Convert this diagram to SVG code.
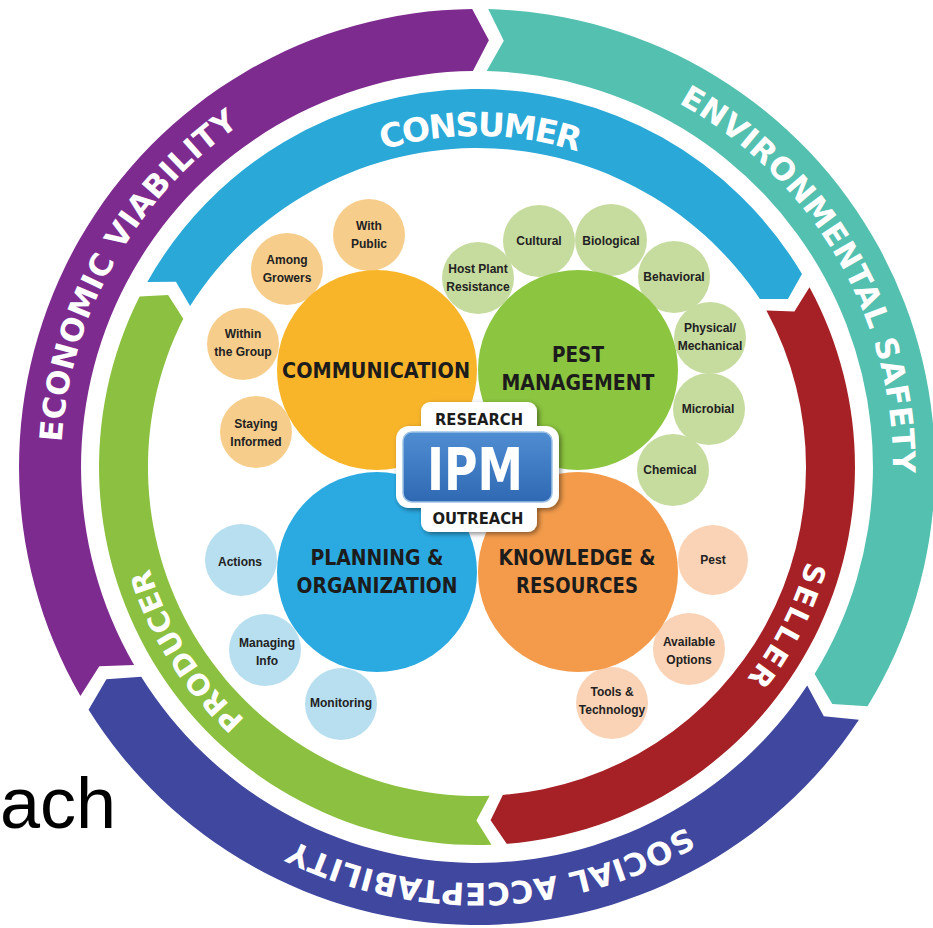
<svg xmlns="http://www.w3.org/2000/svg" width="933" height="928" viewBox="0 0 933 928">
<defs>
<style>
.ring{font-family:"DejaVu Sans","Liberation Sans",sans-serif;font-weight:bold;fill:#fff;text-anchor:middle}
.big{font-family:"DejaVu Sans","Liberation Sans",sans-serif;font-weight:bold;font-size:22px;fill:#1c1c1c;text-anchor:middle}
.sm{font-family:"Liberation Sans","DejaVu Sans",sans-serif;font-weight:bold;font-size:12px;fill:#222;text-anchor:middle}
.tab{font-family:"DejaVu Sans","Liberation Sans",sans-serif;font-weight:bold;font-size:16px;fill:#1c1c1c;text-anchor:middle}
.c1{fill:#F6CD8B}.c2{fill:#C6DB9E}.c3{fill:#B8DFF0}.c4{fill:#FAD3B6}
</style>
<filter id="sh" x="-20%" y="-20%" width="140%" height="140%">
<feDropShadow dx="2" dy="2" stdDeviation="2.5" flood-color="#000" flood-opacity="0.45"/>
</filter>
<linearGradient id="bg" x1="0" y1="0" x2="0" y2="1">
<stop offset="0" stop-color="#4F8DD2"/><stop offset="1" stop-color="#2F69B3"/>
</linearGradient>
<path id="p-econ" d="M119.3,679.4 A416,416 0 0 1 471.9,51.0"/>
<path id="p-env" d="M476.3,51.0 A416,416 0 0 1 837.6,674.4"/>
<path id="p-soc" d="M844.3,662.3 A416,416 0 0 1 124.2,687.4"/>
<path id="p-cons" d="M192.1,298.5 A331,331 0 0 1 765.4,304.5"/>
<path id="p-sell" d="M764.7,280.2 A343,343 0 0 1 495.0,809.5"/>
<path id="p-prod" d="M490.8,809.7 A343,343 0 0 1 173.3,307.6"/>
</defs>
<rect width="933" height="928" fill="#fff"/>

<g id="economic-viability">
<path fill="#7E2B8F" d="M80.4,696 A458,458 0 0 1 472.2,9.0 L488.9,40.2 L472.9,71.0 A396,396 0 0 0 134.1,665 L99.3,666.2 Z"/>
<text class="ring" font-size="31"><textPath href="#p-econ" startOffset="50%" textLength="376">ECONOMIC VIABILITY</textPath></text>
</g>
<g id="environmental-safety">
<path fill="#54C0B0" d="M488.2,9.1 A458,458 0 0 1 867.5,706.3 L832.3,703.9 L814.6,673.9 A396,396 0 0 0 486.7,71.1 L503.8,40.8 Z"/>
<text class="ring" font-size="31"><textPath href="#p-env" startOffset="50%" textLength="449">ENVIRONMENTAL SAFETY</textPath></text>
</g>
<g id="social-acceptability">
<path fill="#3F479F" d="M858.9,719.8 A458,458 0 0 1 88.6,709.7 L106.4,679.2 L141.2,676.8 A396,396 0 0 0 807.2,685.6 L823.8,716.2 Z"/>
<text class="ring" font-size="31"><textPath href="#p-soc" startOffset="50%" textLength="409">SOCIAL ACCEPTABILITY</textPath></text>
</g>

<g id="consumer">
<path fill="#2AA8D8" d="M147.3,282.0 A378,378 0 0 1 802.0,274.0 L787.9,298.9 L759.9,299.0 A340,340 0 0 0 190.1,306.0 L175.9,281.8 Z"/>
<text class="ring" font-size="33"><textPath href="#p-cons" startOffset="50%" textLength="198">CONSUMER</textPath></text>
</g>
<g id="seller">
<path fill="#A62125" d="M809.5,287.2 A378,378 0 0 1 506.7,843.8 L490.6,820.2 L502.8,795.0 A329,329 0 0 0 766.4,310.5 L794.4,311.5 Z"/>
<text class="ring" font-size="29"><textPath href="#p-sell" startOffset="50%" textLength="133">SELLER</textPath></text>
</g>
<g id="producer">
<path fill="#8CC040" d="M491.5,844.7 A378,378 0 0 1 139.6,296.6 L168.1,295.1 L183.3,318.7 A329,329 0 0 0 489.6,795.8 L476.4,820.5 Z"/>
<text class="ring" font-size="29"><textPath href="#p-prod" startOffset="50%" textLength="181">PRODUCER</textPath></text>
</g>

<g id="with-public"><circle class="c1" cx="369" cy="235" r="36"/><text class="sm" x="369" y="230">With</text><text class="sm" x="369" y="248">Public</text></g>
<g id="among-growers"><circle class="c1" cx="287" cy="269" r="36"/><text class="sm" x="287" y="264">Among</text><text class="sm" x="287" y="282">Growers</text></g>
<g id="within-group"><circle class="c1" cx="243" cy="344" r="36"/><text class="sm" x="243" y="338">Within</text><text class="sm" x="243" y="356">the Group</text></g>
<g id="staying-informed"><circle class="c1" cx="256" cy="432" r="36"/><text class="sm" x="256" y="428">Staying</text><text class="sm" x="256" y="446">Informed</text></g>

<g id="host-plant"><circle class="c2" cx="478" cy="278" r="36"/><text class="sm" x="478" y="273">Host Plant</text><text class="sm" x="478" y="291">Resistance</text></g>
<g id="cultural"><circle class="c2" cx="539" cy="241" r="36"/><text class="sm" x="539" y="245">Cultural</text></g>
<g id="biological"><circle class="c2" cx="611" cy="240" r="36"/><text class="sm" x="611" y="245">Biological</text></g>
<g id="behavioral"><circle class="c2" cx="674" cy="277" r="36"/><text class="sm" x="674" y="281">Behavioral</text></g>
<g id="physical"><circle class="c2" cx="710" cy="338" r="36"/><text class="sm" x="710" y="332">Physical/</text><text class="sm" x="710" y="350">Mechanical</text></g>
<g id="microbial"><circle class="c2" cx="709" cy="409" r="36"/><text class="sm" x="708" y="413">Microbial</text></g>
<g id="chemical"><circle class="c2" cx="673" cy="470" r="36"/><text class="sm" x="670" y="474">Chemical</text></g>

<g id="actions"><circle class="c3" cx="241" cy="560" r="36"/><text class="sm" x="240" y="566">Actions</text></g>
<g id="managing-info"><circle class="c3" cx="265" cy="650" r="36"/><text class="sm" x="267" y="647">Managing</text><text class="sm" x="267" y="665">Info</text></g>
<g id="monitoring"><circle class="c3" cx="341" cy="704" r="36"/><text class="sm" x="341" y="707">Monitoring</text></g>

<g id="pest"><circle class="c4" cx="713" cy="560" r="35"/><text class="sm" x="713" y="564">Pest</text></g>
<g id="available-options"><circle class="c4" cx="689" cy="649" r="36"/><text class="sm" x="689" y="646">Available</text><text class="sm" x="689" y="664">Options</text></g>
<g id="tools-technology"><circle class="c4" cx="612" cy="703" r="36"/><text class="sm" x="612" y="696">Tools &amp;</text><text class="sm" x="612" y="714">Technology</text></g>

<g id="communication"><circle cx="377" cy="370" r="100" fill="#F8B52A"/><text class="big" x="376" y="378" textLength="188" lengthAdjust="spacingAndGlyphs">COMMUNICATION</text></g>
<g id="pest-management"><circle cx="578" cy="370" r="100" fill="#8CC540"/><text class="big" x="578" y="362" textLength="52" lengthAdjust="spacingAndGlyphs">PEST</text><text class="big" x="578" y="390" textLength="153" lengthAdjust="spacingAndGlyphs">MANAGEMENT</text></g>
<g id="planning"><circle cx="377" cy="572" r="100" fill="#2BAAE2"/><text class="big" x="377" y="565" textLength="133" lengthAdjust="spacingAndGlyphs">PLANNING &amp;</text><text class="big" x="377" y="593" textLength="161" lengthAdjust="spacingAndGlyphs">ORGANIZATION</text></g>
<g id="knowledge"><circle cx="578" cy="572" r="100" fill="#F39B4B"/><text class="big" x="577" y="565" textLength="157" lengthAdjust="spacingAndGlyphs">KNOWLEDGE &amp;</text><text class="big" x="577" y="593" textLength="122" lengthAdjust="spacingAndGlyphs">RESOURCES</text></g>

<g id="ipm">
<g filter="url(#sh)" fill="#fff">
<rect x="421" y="402" width="116" height="36" rx="9"/>
<rect x="421" y="496" width="116" height="36" rx="9"/>
<rect x="396" y="426" width="163" height="82" rx="13"/>
</g>
<rect x="403" y="432" width="149" height="70" rx="9" fill="url(#bg)" stroke="#9DC2E6" stroke-width="1.5"/>
<text class="tab" x="479" y="425" textLength="88" lengthAdjust="spacingAndGlyphs">RESEARCH</text>
<text x="475" y="490" font-family="DejaVu Sans, Liberation Sans, sans-serif" font-weight="bold" font-size="58" fill="#fff" text-anchor="middle" textLength="96" lengthAdjust="spacingAndGlyphs">IPM</text>
<text class="tab" x="478" y="524" textLength="91" lengthAdjust="spacingAndGlyphs">OUTREACH</text>
</g>

<text x="0" y="828" font-family="Liberation Sans, Arial, sans-serif" font-size="72" fill="#000">ach</text>
</svg>
